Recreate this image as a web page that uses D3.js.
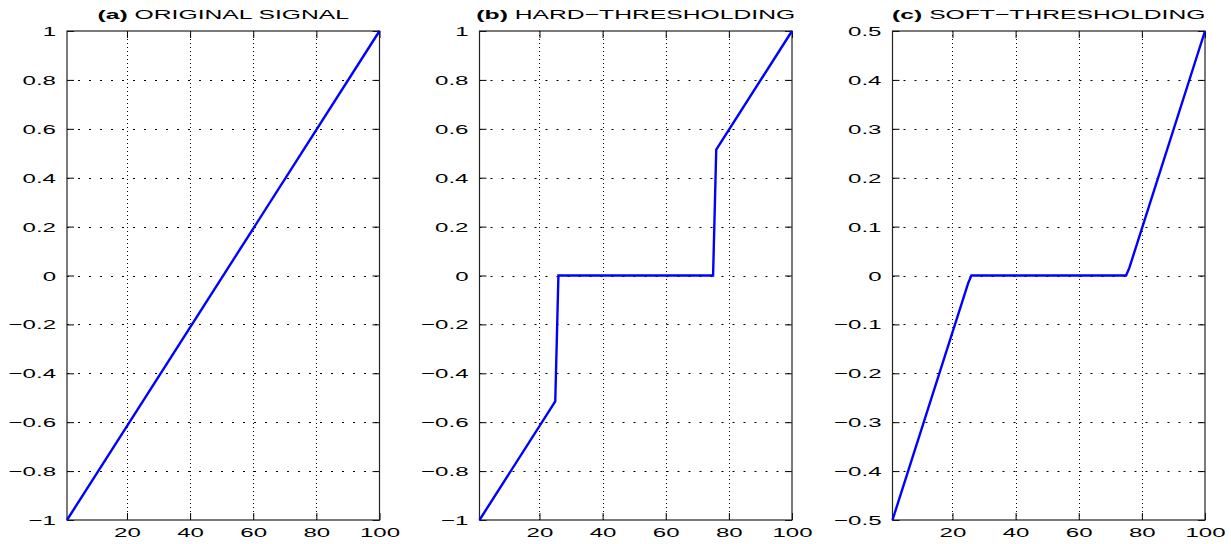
<!DOCTYPE html>
<html>
<head>
<meta charset="utf-8">
<script src="https://cdn.jsdelivr.net/npm/d3@7"></script>
<style>
  body { margin: 0; background: #fff; }
  text { font-family: "Liberation Sans", Arial, Helvetica, sans-serif; }
</style>
</head>
<body>
<script>
// ---- data ----
var panelLetters = ["(a)", "(b)", "(c)"];
var panelNames = ["ORIGINAL SIGNAL", "HARD\u2212THRESHOLDING", "SOFT\u2212THRESHOLDING"];

var xTicks = [20, 40, 60, 80, 100];
var yTicksAB = [-1, -0.8, -0.6, -0.4, -0.2, 0, 0.2, 0.4, 0.6, 0.8, 1];
var yTicksC = [-0.5, -0.4, -0.3, -0.2, -0.1, 0, 0.1, 0.2, 0.3, 0.4, 0.5];

// breakpoints of each curve (sample index, value)
var origX = [1, 100];
var origY = [-1, 1];
var hardX = [1, 25, 26, 75, 76, 100];
var hardY = [-1, -0.515, 0, 0, 0.515, 1];
var softX = [1, 25, 26, 75, 76, 100];
var softY = [-0.5, -0.015, 0, 0, 0.015, 0.5];

var panels = [
  { left: 67,  xs: origX, ys: origY, yDom: [-1, 1],     yTicks: yTicksAB },
  { left: 479.5, xs: hardX, ys: hardY, yDom: [-1, 1],   yTicks: yTicksAB },
  { left: 892.5, xs: softX, ys: softY, yDom: [-0.5, 0.5], yTicks: yTicksC }
];

var W = 1231, H = 544;
var pw = 312.5, plotTop = 31, plotBottom = 520;
var sx = 1.85;   // the picture is squashed vertically, text looks wide
var fmt = function(d) {
  var s = d3.format("")(Math.round(d * 10) / 10);
  return s.replace("-", "\u2212");
};

var svg = d3.select("body").append("svg")
  .attr("width", W).attr("height", H);

panels.forEach(function(p, i) {
  var x = d3.scaleLinear().domain([1, 100]).range([p.left, p.left + pw]);
  var y = d3.scaleLinear().domain(p.yDom).range([plotBottom, plotTop]);
  var g = svg.append("g");

  // grid
  g.append("g").selectAll("line").data(xTicks.filter(function(d) { return d < 100; }))
    .enter().append("line")
    .attr("x1", function(d) { return Math.round(x(d)) + 0.5; })
    .attr("x2", function(d) { return Math.round(x(d)) + 0.5; })
    .attr("y1", plotTop).attr("y2", plotBottom)
    .attr("stroke", "#000").attr("stroke-width", 1)
    .attr("stroke-dasharray", "1,3");
  g.append("g").selectAll("line").data(p.yTicks.slice(1, -1))
    .enter().append("line")
    .attr("x1", p.left).attr("x2", p.left + pw)
    .attr("y1", function(d) { return Math.round(y(d)) + 0.5; })
    .attr("y2", function(d) { return Math.round(y(d)) + 0.5; })
    .attr("stroke", "#000").attr("stroke-width", 1)
    .attr("stroke-dasharray", "2,9");

  // axes with inner ticks on all sides
  var bx = g.append("g").attr("transform", "translate(0," + plotBottom + ")")
    .call(d3.axisBottom(x).tickValues(xTicks).tickSizeInner(-7).tickSizeOuter(0).tickFormat(fmt));
  bx.selectAll("text").attr("y", 0).attr("dy", null)
    .attr("transform", "translate(0,17) scale(" + sx + ",1)");
  g.append("g").attr("transform", "translate(0," + plotTop + ")")
    .call(d3.axisTop(x).tickValues(xTicks).tickSizeInner(-7).tickSizeOuter(0).tickFormat(""));
  var ly = g.append("g").attr("transform", "translate(" + p.left + ",0)")
    .call(d3.axisLeft(y).tickValues(p.yTicks).tickSizeInner(-7).tickSizeOuter(0).tickFormat(fmt));
  ly.selectAll("text").attr("x", 0).attr("dy", "0.35em")
    .attr("transform", "translate(-11,0) scale(" + sx + ",1)");
  g.append("g").attr("transform", "translate(" + (p.left + pw) + ",0)")
    .call(d3.axisRight(y).tickValues(p.yTicks).tickSizeInner(-7).tickSizeOuter(0).tickFormat(""));
  g.selectAll(".domain").remove();
  g.selectAll(".tick text").attr("font-size", 13).attr("fill", "#000")
    .attr("font-family", "'Liberation Sans', Arial, sans-serif");
  g.selectAll(".tick line").attr("stroke", "#000");

  // box
  g.append("rect")
    .attr("x", p.left).attr("y", plotTop).attr("width", pw).attr("height", plotBottom - plotTop)
    .attr("fill", "none").attr("stroke", "#222").attr("stroke-width", 1.2);

  // curve
  var pts = p.xs.map(function(v, k) { return [v, p.ys[k]]; });
  g.append("path")
    .datum(pts)
    .attr("d", d3.line().x(function(d) { return x(d[0]); }).y(function(d) { return y(d[1]); }))
    .attr("fill", "none").attr("stroke", "#0000ff").attr("stroke-width", 2.4);

  // title
  var t = g.append("text")
    .attr("transform", "translate(" + (p.left + pw / 2) + ",19) scale(1.9,1)")
    .attr("text-anchor", "middle").attr("font-size", 13).attr("fill", "#000");
  t.append("tspan").attr("font-weight", "bold").text(panelLetters[i]);
  t.append("tspan").text(" " + panelNames[i]);
});
</script>
</body>
</html>
